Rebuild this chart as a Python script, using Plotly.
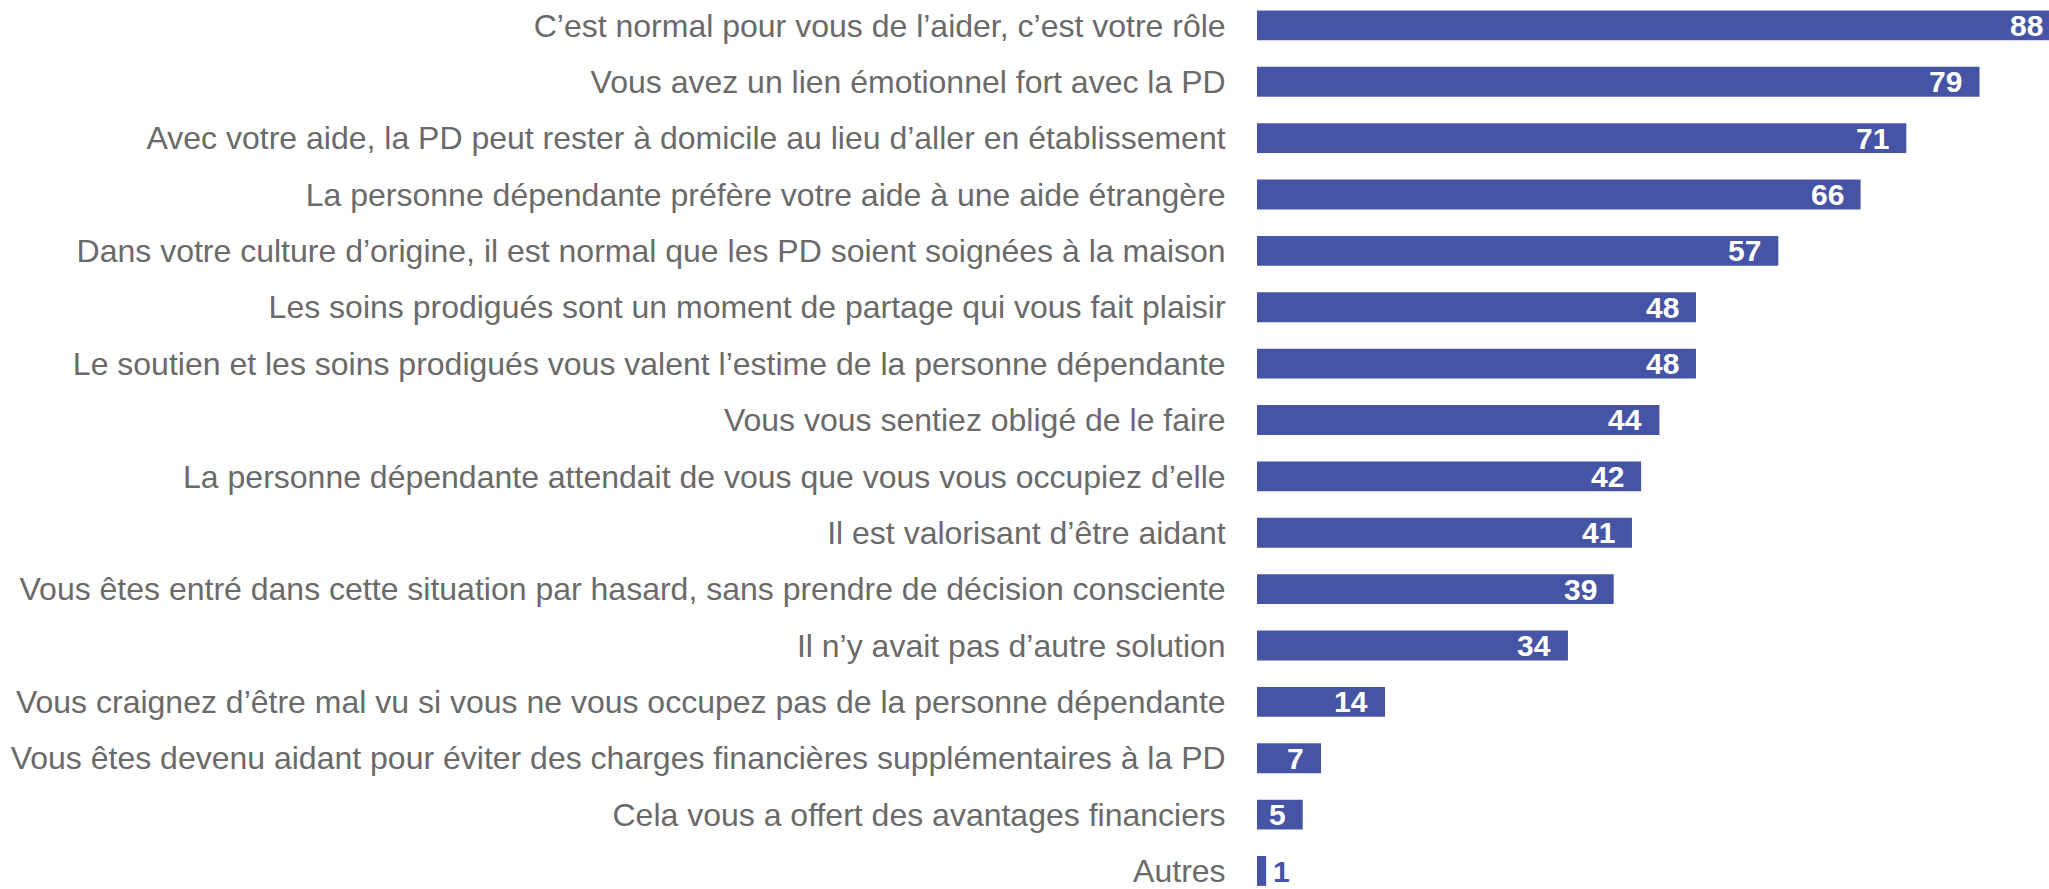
import plotly.graph_objects as go

categories = [
    "C’est normal pour vous de l’aider, c’est votre rôle",
    "Vous avez un lien émotionnel fort avec la PD",
    "Avec votre aide, la PD peut rester à domicile au lieu d’aller en établissement",
    "La personne dépendante préfère votre aide à une aide étrangère",
    "Dans votre culture d’origine, il est normal que les PD soient soignées à la maison",
    "Les soins prodigués sont un moment de partage qui vous fait plaisir",
    "Le soutien et les soins prodigués vous valent l’estime de la personne dépendante",
    "Vous vous sentiez obligé de le faire",
    "La personne dépendante attendait de vous que vous vous occupiez d’elle",
    "Il est valorisant d’être aidant",
    "Vous êtes entré dans cette situation par hasard, sans prendre de décision consciente",
    "Il n’y avait pas d’autre solution",
    "Vous craignez d’être mal vu si vous ne vous occupez pas de la personne dépendante",
    "Vous êtes devenu aidant pour éviter des charges financières supplémentaires à la PD",
    "Cela vous a offert des avantages financiers",
    "Autres",
]
values = [88, 79, 71, 66, 57, 48, 48, 44, 42, 41, 39, 34, 14, 7, 5, 1]

BAR = "#4654a5"
W, H = 2049, 889
XMAX = 86.6
FONT = "Liberation Sans, Arial"

fig = go.Figure()
fig.add_trace(go.Bar(
    x=values, y=categories, orientation="h",
    marker=dict(color=BAR, line=dict(width=0)),
    width=0.53, hoverinfo="skip",
))

annotations = []
for c, v in zip(categories, values):
    if v >= 3:
        clipped = v > XMAX
        annotations.append(dict(
            x=1 if clipped else v, xref="paper" if clipped else "x",
            y=c, yref="y", text=f"<b>{v}</b>", showarrow=False,
            xanchor="right", xshift=-4 if clipped else -15,
            font=dict(family=FONT, size=30, color="white"),
        ))
    else:
        annotations.append(dict(
            x=v, y=c, xref="x", yref="y", text=f"<b>{v}</b>", showarrow=False,
            xanchor="left", xshift=5, yshift=-1,
            font=dict(family=FONT, size=30, color=BAR),
        ))

fig.update_layout(
    width=W, height=H,
    margin=dict(l=1257, r=0, t=0, b=0, autoexpand=False),
    plot_bgcolor="white", paper_bgcolor="white",
    showlegend=False,
    annotations=annotations,
    xaxis=dict(range=[0, XMAX], visible=False, fixedrange=True),
    yaxis=dict(
        type="category", range=[15.32, -0.45],
        showgrid=False, zeroline=False, showline=False,
        ticks="outside", ticklen=24, tickcolor="rgba(0,0,0,0)",
        tickfont=dict(family=FONT, size=32, color="#6a6a6a"),
        automargin=False,
    ),
)

fig.write_html("out.html", config={"displayModeBar": False},
               post_script="document.body.style.margin='0';document.body.style.overflow='hidden';")
